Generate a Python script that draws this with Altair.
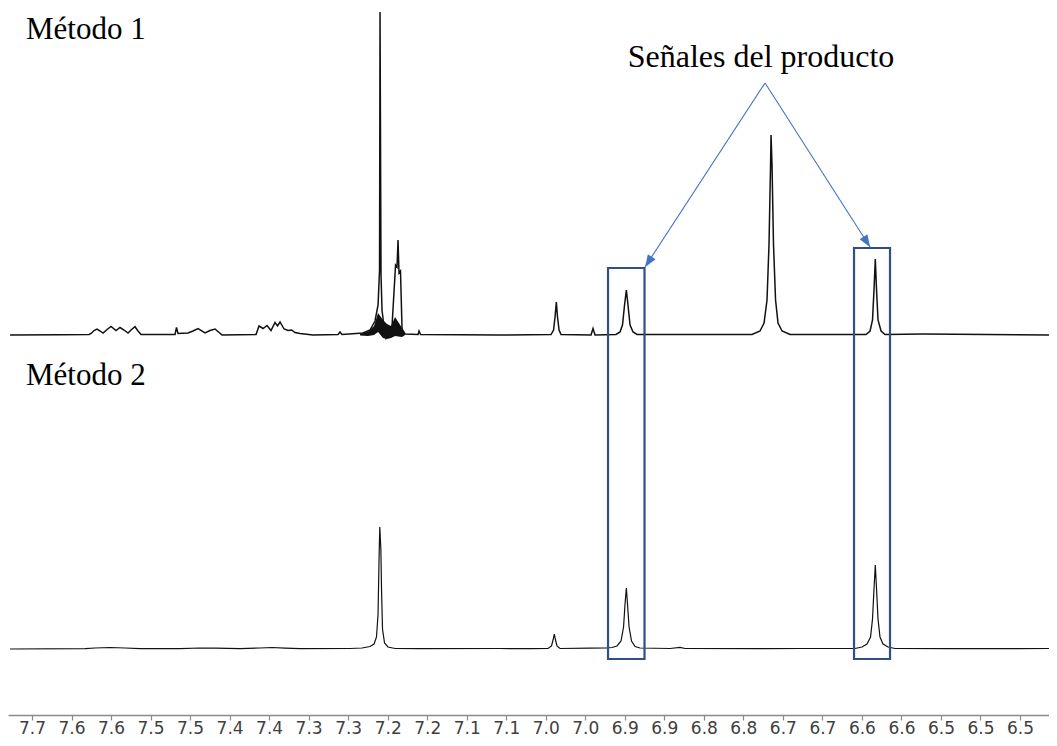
import json
import altair as alt
import pandas as pd

# ---------------- data ----------------
# chemical shift (ppm) and intensity (a.u.) of the "Método 1" trace
m1_ppm = [7.6817, 7.6209, 7.5855, 7.5831, 7.5795, 7.5758, 7.5720, 7.5685, 7.5636, 7.5588,
          7.5527, 7.5479, 7.5430, 7.5381, 7.5338, 7.5296, 7.5260, 7.5223, 7.4809, 7.4791,
          7.4773, 7.4651, 7.4590, 7.4529, 7.4444, 7.4383, 7.4322, 7.4237, 7.3823, 7.3787,
          7.3738, 7.3689, 7.3641, 7.3592, 7.3562, 7.3531, 7.3482, 7.3434, 7.3391, 7.3349,
          7.3288, 7.3130, 7.2825, 7.2801, 7.2777, 7.2521, 7.2436, 7.2375, 7.2338, 7.2320,
          7.2314, 7.2302, 7.2290, 7.2265, 7.2241, 7.2192, 7.2168, 7.2125, 7.2107, 7.2095,
          7.2083, 7.2065, 7.2046, 7.2010, 7.1851, 7.1839, 7.1821, 7.0854, 7.0233, 7.0202,
          7.0184, 7.0168, 7.0154, 7.0135, 7.0111, 6.9746, 6.9722, 6.9697, 6.9442, 6.9393,
          6.9363, 6.9338, 6.9316, 6.9296, 6.9271, 6.9235, 6.9186, 6.7786, 6.7689, 6.7640,
          6.7604, 6.7580, 6.7561, 6.7555, 6.7543, 6.7525, 6.7500, 6.7470, 6.7421, 6.7324,
          6.6399, 6.6350, 6.6320, 6.6302, 6.6286, 6.6271, 6.6253, 6.6216, 6.6168, 6.5693,
          6.4172]
m1_int = [0, 0.3, 0.5, 1.5, 4.5, 6, 4, 2, 5.5, 8.5,
          4.5, 7.5, 5, 2, 5.5, 8.3, 4, 0.5, 0.5, 7.5,
          1.5, 2, 4, 6.5, 2, 4.5, 6, 0, 0.5, 9,
          6.5, 9.5, 4.5, 12.5, 9, 13, 6, 4.5, 5, 2.5,
          1.5, 0, 0.5, 3, 0.5, 2, 5, 14, 30, 65,
          323, 60, 25, 8, -3, 6, 9, 70, 68, 95,
          62, 64, 6, 1, 0.5, 4, 0.5, 0, 0.5, 5,
          18, 33, 18, 5, 0.5, 0, 6.5, 0, 0.5, 3,
          10, 30, 45, 30, 10, 3, 0.5, 0.5, 4, 12,
          35, 90, 170, 200, 170, 90, 35, 12, 4, 0.5,
          0.5, 4, 15, 45, 76, 45, 15, 4, 0.5, 1,
          0]

# dense (unresolved) base of the 7.22 ppm signal in "Método 1"
m1_band_ppm = [7.2557, 7.2460, 7.2387, 7.2338, 7.2278, 7.2229, 7.2180, 7.2131, 7.2046, 7.2010]
m1_band_lo = [-0.5, -1, 0, 3, -3, -4, -3, -1, -2, 0]
m1_band_hi = [1.5, 3.5, 9, 22, 15, 11, 9, 18, 7, 1]

# chemical shift (ppm) and intensity (a.u.) of the "Método 2" trace
m2_ppm = [7.6817, 7.5904, 7.5783, 7.5600, 7.5418, 7.5235, 7.4748, 7.4505, 7.4322, 7.4018,
          7.3775, 7.3629, 7.3470, 7.3288, 7.2679, 7.2533, 7.2436, 7.2387, 7.2357, 7.2338,
          7.2326, 7.2317, 7.2304, 7.2296, 7.2284, 7.2259, 7.2217, 7.2131, 7.1827, 7.0854,
          7.0488, 7.0269, 7.0227, 7.0208, 7.0193, 7.0178, 7.0160, 7.0123, 6.9758, 6.9563,
          6.9490, 6.9430, 6.9381, 6.9350, 6.9332, 6.9316, 6.9302, 6.9283, 6.9253, 6.9210,
          6.9150, 6.8784, 6.8663, 6.8602, 6.7689, 6.7202, 6.6533, 6.6448, 6.6387, 6.6344,
          6.6320, 6.6302, 6.6286, 6.6271, 6.6253, 6.6229, 6.6192, 6.6131, 6.6046, 6.5377,
          6.4172]
m2_int = [0, 0.3, 1, 1.5, 1, 0.3, 0.3, 1, 0.8, 0.3,
          1, 1.5, 0.8, 0.3, 0.5, 1, 2.5, 5, 12, 35,
          90, 122, 100, 60, 20, 6, 2, 0.5, 0.3, 0.5,
          0.3, 0.5, 3, 9, 15, 9, 3, 0.5, 0.8, 1,
          1.5, 3, 8, 22, 45, 61, 45, 22, 8, 2.5,
          1, 0.5, 1.7, 0.5, 0.3, 0.5, 0.5, 2, 5, 12,
          30, 60, 84, 60, 30, 12, 5, 2, 0.5, 0.3,
          0.5]

# x-axis ticks and their printed labels
tick_values = [7.655, 7.6069, 7.5588, 7.5107, 7.4626, 7.4145, 7.3664, 7.3183, 7.2702, 7.2221,
               7.174, 7.1259, 7.0778, 7.0297, 6.9816, 6.9335, 6.8854, 6.8373, 6.7892, 6.7411,
               6.693, 6.6449, 6.5968, 6.5487, 6.5006, 6.4525]
tick_labels = ["7.7", "7.6", "7.6", "7.5", "7.5", "7.4", "7.4", "7.3", "7.3", "7.2",
               "7.2", "7.1", "7.1", "7.0", "7.0", "6.9", "6.9", "6.8", "6.8", "6.7",
               "6.7", "6.6", "6.6", "6.5", "6.5", "6.5"]

# highlight boxes around the product signals (ppm range, vertical extent in a.u.)
box_ppm_left = [6.9539, 6.6545]
box_ppm_right = [6.9095, 6.6107]
box_bottom = [56, 56]
box_top = [447, 467]

# arrows from the "Señales del producto" label to the boxes
arrow_start_ppm = [6.7628, 6.7628]
arrow_start_y = [632, 632]
arrow_end_ppm = [6.9089, 6.6350]
arrow_end_y = [448, 468]
head_ppm = [6.9048, 6.6389]
head_y = [453, 473]
head_angle = [213, 147]

# ---------------- layout constants ----------------
X_MIN, X_MAX = 6.4172, 7.6842
Y_MAX = 707
OFFSET_M1 = 380   # vertical stacking offset of the Método 1 trace
OFFSET_M2 = 66    # vertical stacking offset of the Método 2 trace

df1 = pd.DataFrame({"ppm": m1_ppm, "y": [v + OFFSET_M1 for v in m1_int]})
df2 = pd.DataFrame({"ppm": m2_ppm, "y": [v + OFFSET_M2 for v in m2_int]})
dfb = pd.DataFrame({"ppm": m1_band_ppm,
                    "lo": [v + OFFSET_M1 for v in m1_band_lo],
                    "hi": [v + OFFSET_M1 for v in m1_band_hi]})
dbox = pd.DataFrame({"x1": box_ppm_left, "x2": box_ppm_right, "y1": box_bottom, "y2": box_top})
darr = pd.DataFrame({"x1": arrow_start_ppm, "y1": arrow_start_y, "x2": arrow_end_ppm, "y2": arrow_end_y})
dhead = pd.DataFrame({"x": head_ppm, "y": head_y, "ang": head_angle})

label_expr = f"{json.dumps(tick_labels)}[indexof({json.dumps(tick_values)}, datum.value)]"

xscale = alt.Scale(domain=[X_MIN, X_MAX], reverse=True, nice=False, zero=False)
yscale = alt.Scale(domain=[0, Y_MAX], nice=False, zero=False)

xaxis = alt.Axis(values=tick_values, labelExpr=label_expr, title=None, grid=False,
                 domainColor="#8a8a8a", domainWidth=1.5, tickColor="#8a8a8a", tickWidth=1.2,
                 tickSize=5, labelFont="DejaVu Sans", labelFontSize=17, labelColor="#404040",
                 labelPadding=0, labelFlush=False, labelOverlap=False)

line1 = alt.Chart(df1).mark_line(color="#111111", strokeWidth=1.5).encode(
    x=alt.X("ppm:Q", scale=xscale, axis=xaxis),
    y=alt.Y("y:Q", scale=yscale, axis=None),
)
band1 = alt.Chart(dfb).mark_area(color="#111111").encode(
    x=alt.X("ppm:Q"), y=alt.Y("lo:Q"), y2="hi:Q"
)
line2 = alt.Chart(df2).mark_line(color="#111111", strokeWidth=1.2).encode(
    x=alt.X("ppm:Q"), y=alt.Y("y:Q")
)
boxes = alt.Chart(dbox).mark_rect(fillOpacity=0, stroke="#2f4f86", strokeWidth=2.2).encode(
    x="x1:Q", x2="x2:Q", y="y1:Q", y2="y2:Q"
)
arrows = alt.Chart(darr).mark_rule(color="#4472C4", strokeWidth=1.1).encode(
    x="x1:Q", x2="x2:Q", y="y1:Q", y2="y2:Q"
)
heads = alt.Chart(dhead).mark_point(shape="M0,-1L0.75,1L-0.75,1Z", filled=True,
                                     color="#4472C4", opacity=1, size=150).encode(
    x="x:Q", y="y:Q", angle=alt.Angle("ang:Q", scale=None)
)

one = pd.DataFrame({"k": [0]})
t1 = alt.Chart(one).mark_text(text="Método 1", font="Liberation Serif", fontSize=31,
                              align="left", baseline="alphabetic", color="black").encode(
    x=alt.value(18), y=alt.value(31))
t2 = alt.Chart(one).mark_text(text="Método 2", font="Liberation Serif", fontSize=31,
                              align="left", baseline="alphabetic", color="black").encode(
    x=alt.value(18), y=alt.value(377))
t3 = alt.Chart(one).mark_text(text="Señales del producto", font="Liberation Serif", fontSize=32,
                              align="center", baseline="alphabetic", color="black").encode(
    x=alt.value(753), y=alt.value(59))

chart = alt.layer(line1, band1, line2, boxes, arrows, heads, t1, t2, t3).properties(
    width=1041, height=Y_MAX,
    autosize=alt.AutoSizeParams(type="none"),
    padding={"left": 0, "top": 0, "right": 0, "bottom": 23},
    background="white",
).configure_view(stroke=None)

chart.save("out.html", embed_options={"renderer": "svg", "actions": False})
